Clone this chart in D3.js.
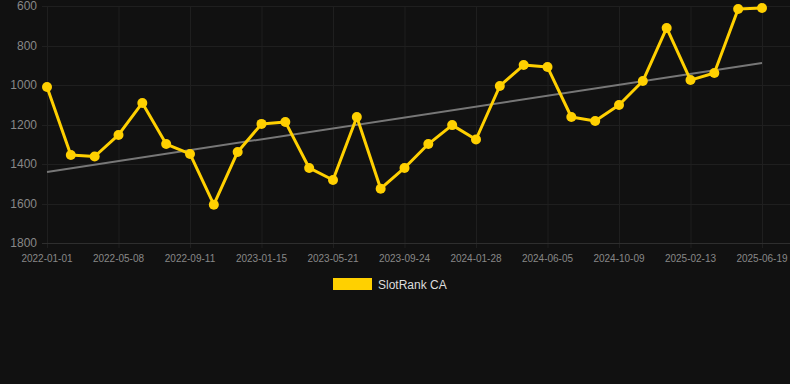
<!DOCTYPE html>
<html><head><meta charset="utf-8">
<script src="https://cdn.jsdelivr.net/npm/d3@7"></script>
<style>
html,body{margin:0;padding:0;background:#111111;}
svg{display:block;}
</style></head>
<body>
<svg id="chart" width="790" height="384"></svg>
<script>
const dates = ["2022-01-01","2022-02-12","2022-03-26","2022-05-08","2022-06-19","2022-07-31","2022-09-11","2022-10-23","2022-12-04","2023-01-15","2023-02-26","2023-04-09","2023-05-21","2023-07-02","2023-08-13","2023-09-24","2023-11-05","2023-12-17","2024-01-28","2024-03-10","2024-04-23","2024-06-05","2024-07-17","2024-08-28","2024-10-09","2024-11-20","2025-01-01","2025-02-13","2025-03-27","2025-05-08","2025-06-19"];
const ranks = [1010,1354,1362,1253,1091,1299,1349,1606,1339,1197,1187,1420,1481,1162,1525,1420,1299,1203,1276,1005,899,909,1162,1182,1101,980,711,975,939,615,610];
const trend = [1440,889];
const yTicks = [600,800,1000,1200,1400,1600,1800];
const seriesName = "SlotRank CA";

(function(){
const svg = d3.select("#chart");
const pL = 47, pR = 762, pT = 6, pB = 243;
const x = d3.scalePoint().domain(dates).range([pL, pR]);
const y = d3.scaleLinear().domain([600,1800]).range([pT, pB]);

// grid
const xLabels = dates.filter((d,i)=> i%3===0);
svg.append("g").selectAll("line").data(xLabels).join("line")
  .attr("x1", d=>x(d)+0.5).attr("x2", d=>x(d)+0.5).attr("y1", pT).attr("y2", pB+5)
  .attr("stroke", "#1f1f1f").attr("stroke-width",1);
svg.append("g").selectAll("line").data(yTicks).join("line")
  .attr("x1", pL-5).attr("x2", 790).attr("y1", d=>Math.round(y(d))+0.5).attr("y2", d=>Math.round(y(d))+0.5)
  .attr("stroke", d=> d===1800 ? "#2e2e2e" : "#1f1f1f").attr("stroke-width",1);

// y labels
svg.append("g").selectAll("text").data(yTicks).join("text")
  .attr("x", 37).attr("y", d=>y(d)).attr("dy","0.35em")
  .attr("text-anchor","end").attr("fill","#888888")
  .style("font-family","Arial, 'Liberation Sans', sans-serif").style("font-size","12px")
  .text(d=>d);

// x labels
svg.append("g").selectAll("text").data(xLabels).join("text")
  .attr("x", d=>x(d)).attr("y", 262)
  .attr("text-anchor","middle").attr("fill","#888888")
  .style("font-family","Arial, 'Liberation Sans', sans-serif").style("font-size","10px")
  .text(d=>d);

// trend line
svg.append("line")
  .attr("x1", x(dates[0])).attr("y1", y(trend[0]))
  .attr("x2", x(dates[dates.length-1])).attr("y2", y(trend[1]))
  .attr("stroke","#777777").attr("stroke-width",2);

// series line
const line = d3.line().x((d,i)=>x(dates[i])).y(d=>y(d));
svg.append("path").datum(ranks).attr("d", line)
  .attr("fill","none").attr("stroke","#FFD000").attr("stroke-width",3)
  .attr("stroke-linejoin","round");
svg.append("g").selectAll("circle").data(ranks).join("circle")
  .attr("cx",(d,i)=>x(dates[i])).attr("cy",d=>y(d)).attr("r",5)
  .attr("fill","#FFD000");

// legend
svg.append("rect").attr("x",333).attr("y",278).attr("width",39).attr("height",12)
  .attr("fill","#FFD000");
svg.append("text").attr("x",378).attr("y",289).attr("fill","#dddddd")
  .style("font-family","Arial, 'Liberation Sans', sans-serif").style("font-size","12px")
  .text(seriesName);
})();
</script>
</body></html>
